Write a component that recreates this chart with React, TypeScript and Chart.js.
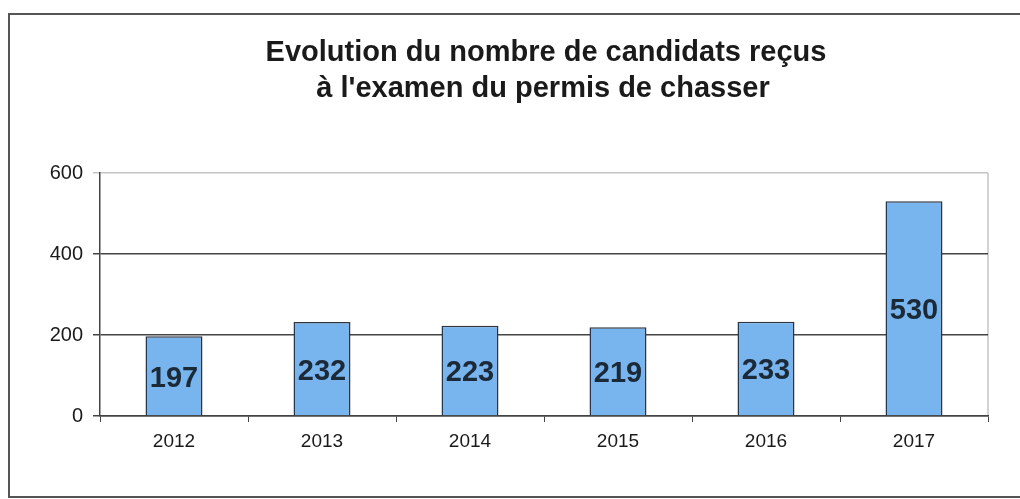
import React, { useEffect, useRef } from "react";
import { Chart, registerables } from "chart.js";

Chart.register(...registerables);

const titleLines = ["Evolution du nombre de candidats reçus", "à l'examen du permis de chasser"];
const years = ["2012", "2013", "2014", "2015", "2016", "2017"];
const candidats = [197, 232, 223, 219, 233, 530];
const yTicks = [0, 200, 400, 600];

const FONT = "'Liberation Sans', Arial, sans-serif";

const decorPlugin = {
  id: "decor",
  beforeDraw(chart: any) {
    const { ctx, chartArea } = chart;
    ctx.save();
    ctx.fillStyle = "#ffffff";
    ctx.fillRect(0, 0, chart.width, chart.height);
    // outer frame
    ctx.strokeStyle = "#555555";
    ctx.lineWidth = 2;
    ctx.beginPath();
    ctx.moveTo(chart.width + 5, 14);
    ctx.lineTo(9, 14);
    ctx.lineTo(9, 497);
    ctx.lineTo(chart.width + 5, 497);
    ctx.stroke();
    // right edge of plot
    ctx.strokeStyle = "#c4c4c4";
    ctx.lineWidth = 1.5;
    ctx.beginPath();
    ctx.moveTo(chartArea.right, chartArea.top);
    ctx.lineTo(chartArea.right, chartArea.bottom);
    ctx.stroke();
    // title
    ctx.fillStyle = "#1a1a1a";
    ctx.font = `bold 29px ${FONT}`;
    ctx.textAlign = "center";
    ctx.textBaseline = "alphabetic";
    ctx.fillText(titleLines[0], 546, 61);
    ctx.fillText(titleLines[1], 543, 97);
    ctx.restore();
  },
  afterDatasetsDraw(chart: any) {
    const { ctx } = chart;
    const meta = chart.getDatasetMeta(0);
    ctx.save();
    ctx.fillStyle = "#1c2a38";
    ctx.font = `bold 29px ${FONT}`;
    ctx.textAlign = "center";
    ctx.textBaseline = "middle";
    meta.data.forEach((bar: any, i: number) => {
      const y = (bar.y + bar.base) / 2 + 3;
      ctx.fillText(String(candidats[i]), bar.x, y);
    });
    ctx.restore();
  },
};

export default function App() {
  const ref = useRef<HTMLCanvasElement | null>(null);
  useEffect(() => {
    if (!ref.current) return;
    const chart = new Chart(ref.current, {
      type: "bar",
      data: {
        labels: years,
        datasets: [
          {
            data: candidats,
            backgroundColor: "#78b5ee",
            borderColor: "#2e3440",
            borderWidth: 1.5,
            categoryPercentage: 1,
            barPercentage: 0.385,
          },
        ],
      },
      options: {
        responsive: false,
        animation: false,
        layout: { padding: { top: 173, right: 32, left: 0, bottom: 0 } },
        plugins: { legend: { display: false }, tooltip: { enabled: false }, title: { display: false } },
        scales: {
          x: {
            offset: true,
            grid: {
              offset: true,
              drawOnChartArea: false,
              drawTicks: true,
              tickLength: 6,
              color: "#444444",
            },
            border: { display: true, color: "#444444", width: 1.5 },
            ticks: {
              color: "#1a1a1a",
              font: { family: FONT, size: 19 },
              padding: 8,
            },
            afterFit: (s: any) => {
              s.height = 83;
            },
          },
          y: {
            min: 0,
            max: 600,
            afterBuildTicks: (s: any) => {
              s.ticks = yTicks.map((v) => ({ value: v }));
            },
            grid: {
              color: (c: any) => (c.tick && c.tick.value === 600 ? "#c4c4c4" : "#444444"),
              lineWidth: 1.5,
              tickLength: 7,
            },
            border: { display: true, color: "#444444", width: 1.5 },
            ticks: {
              color: "#1a1a1a",
              font: { family: FONT, size: 20 },
              padding: 10,
            },
            afterFit: (s: any) => {
              s.width = 100;
            },
          },
        },
      },
      plugins: [decorPlugin],
    });
    return () => chart.destroy();
  }, []);
  return (
    <div style={{ position: "fixed", left: 0, top: 0, width: 1020, height: 499 }}>
      <canvas ref={ref} width={1020} height={499} />
    </div>
  );
}
